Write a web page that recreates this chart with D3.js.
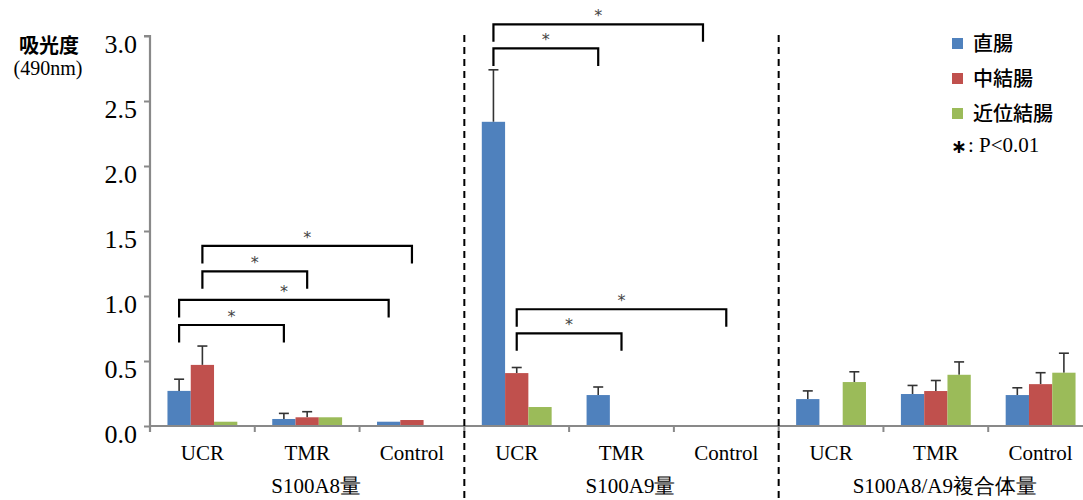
<!DOCTYPE html>
<html><head><meta charset="utf-8">
<script src="https://cdn.jsdelivr.net/npm/d3@7"></script>
<style>
body{margin:0;background:#fff;}
svg{display:block;}
.serif{font-family:"Liberation Serif","Times New Roman","DejaVu Serif",serif;}
.cjk{font-family:"Noto Sans CJK JP","Noto Sans CJK SC",sans-serif;}
</style></head>
<body>
<svg id="chart" width="1083" height="500"></svg>
<script>
const groups = ["S100A8量", "S100A9量", "S100A8/A9複合体量"];
const categories = ["UCR", "TMR", "Control"];
const series = ["直腸", "中結腸", "近位結腸"];
const colors = ["#4F81BD", "#C0504D", "#9BBB59"];
const yTicks = [0, 0.5, 1.0, 1.5, 2.0, 2.5, 3.0];

// values[group][series][category]
const a8Values = [[0.27, 0.054, 0.033], [0.47, 0.067, 0.046], [0.033, 0.067, null]];
const a8Errors = [[0.36, 0.097, null], [0.615, 0.11, null], [null, null, null]];
const a9Values = [[2.34, 0.238, null], [0.407, null, null], [0.146, null, null]];
const a9Errors = [[2.74, 0.30, null], [0.45, null, null], [null, null, null]];
const cxValues = [[0.207, 0.246, 0.238], [null, 0.269, 0.322], [0.338, 0.394, 0.41]];
const cxErrors = [[0.27, 0.312, 0.294], [null, 0.35, 0.41], [0.417, 0.493, 0.56]];
const values = [a8Values, a9Values, cxValues];
const errors = [a8Errors, a9Errors, cxErrors];

// brackets: [group, fromCategory, fromSeries, toCategory, toSeries, level]
const brackets = [
  [0, 0, 1, 2, 1, 1.385],
  [0, 0, 1, 1, 1, 1.19],
  [0, 0, 0, 2, 0, 0.97],
  [0, 0, 0, 1, 0, 0.777],
  [1, 0, 0, 2, 0, 3.09],
  [1, 0, 0, 1, 0, 2.905],
  [1, 0, 1, 2, 1, 0.898],
  [1, 0, 1, 1, 1, 0.713]
];
const legLen = 0.135;

const svg = d3.select("#chart");

const y = d3.scaleLinear().domain([0, 3]).range([426, 36]);
const xg = d3.scaleBand().domain(d3.range(groups.length)).range([150, 1093]).padding(0);
const xc = d3.scaleBand().domain(d3.range(categories.length)).range([0, xg.bandwidth()]).padding(0);
const xs = d3.scaleBand().domain(d3.range(series.length)).range([0, xc.bandwidth()]).paddingInner(0).paddingOuter(0.75);

const barX = (g, c, s) => xg(g) + xc(c) + xs(s);
const barCX = (g, c, s) => barX(g, c, s) + xs.bandwidth() / 2;

// bars
const barData = [];
groups.forEach((gname, g) => series.forEach((sname, s) => categories.forEach((cname, c) => {
  const v = values[g][s][c];
  if (v != null) barData.push({g, s, c, v, e: errors[g][s][c]});
})));

// error bars (behind bars)
const errG = svg.append("g").attr("stroke", "#333").attr("stroke-width", 1.6);
barData.filter(d => d.e != null).forEach(d => {
  const cx = barCX(d.g, d.c, d.s);
  errG.append("line").attr("x1", cx).attr("x2", cx).attr("y1", y(d.v)).attr("y2", y(d.e));
  errG.append("line").attr("x1", cx - 5).attr("x2", cx + 5).attr("y1", y(d.e)).attr("y2", y(d.e));
});

svg.append("g").selectAll("rect").data(barData).join("rect")
  .attr("x", d => barX(d.g, d.c, d.s))
  .attr("width", xs.bandwidth())
  .attr("y", d => y(d.v))
  .attr("height", d => y(0) - y(d.v))
  .attr("fill", d => colors[d.s]);

// y axis
const yAxis = svg.append("g").attr("transform", "translate(150,0)")
  .call(d3.axisLeft(y).tickValues(yTicks).tickFormat(d3.format(".1f")).tickSize(6).tickPadding(7));
yAxis.attr("font-family", null).attr("font-size", null);
yAxis.select(".domain").attr("stroke", "#898989").attr("stroke-width", 2.2).attr("d", "M-6,36H0V432");
yAxis.selectAll(".tick line").attr("stroke", "#898989").attr("stroke-width", 2);
yAxis.selectAll(".tick text").attr("class", "serif").style("font-size", "26px").attr("fill", "#000").attr("dy", "0.62em");

// x axis line and ticks
const xAxisG = svg.append("g");
xAxisG.append("line").attr("x1", 150).attr("x2", 1083).attr("y1", y(0)).attr("y2", y(0))
  .attr("stroke", "#898989").attr("stroke-width", 2.2);
const bounds = [];
groups.forEach((g, gi) => categories.forEach((c, ci) => bounds.push(xg(gi) + xc(ci))));
bounds.push(xg.range()[1]);
xAxisG.selectAll(".xt").data(bounds.slice(1)).join("line")
  .attr("x1", d => d).attr("x2", d => d).attr("y1", y(0)).attr("y2", y(0) + 6)
  .attr("stroke", "#898989").attr("stroke-width", 2);

// category labels
groups.forEach((gname, g) => {
  categories.forEach((cname, c) => {
    svg.append("text").attr("class", "serif").attr("x", xg(g) + xc(c) + xc.bandwidth() / 2).attr("y", 460)
      .attr("text-anchor", "middle").style("font-size", "21px").text(cname);
  });
  svg.append("text").attr("class", "serif").attr("x", xg(g) + xg.bandwidth() / 2 + 9).attr("y", 493)
    .attr("text-anchor", "middle").style("font-size", "21px").text(gname);
});

// dashed dividers
[1, 2].forEach(g => {
  svg.append("line").attr("x1", xg(g)).attr("x2", xg(g)).attr("y1", 35).attr("y2", 500)
    .attr("stroke", "#000").attr("stroke-width", 2).attr("stroke-dasharray", "7,5");
});

// significance brackets
const brG = svg.append("g");
brackets.forEach(([g, c1, s1, c2, s2, lvl]) => {
  const x1 = barCX(g, c1, s1), x2 = barCX(g, c2, s2);
  const yt = y(lvl), yb = y(lvl - legLen);
  brG.append("path").attr("d", `M${x1},${yb}V${yt}H${x2}V${yb}`)
    .attr("fill", "none").attr("stroke", "#000").attr("stroke-width", 2.2);
  brG.append("text").attr("x", (x1 + x2) / 2).attr("y", yt - 3)
    .attr("text-anchor", "middle").style("font-family", "'DejaVu Sans',sans-serif")
    .style("font-size", "16px").attr("fill", "#444").text("*");
});

// y axis title
svg.append("text").attr("class", "cjk").attr("x", 49).attr("y", 53).attr("text-anchor", "middle")
  .style("font-weight", 700).style("font-size", "20px").text("吸光度");
svg.append("text").attr("class", "serif").attr("x", 48).attr("y", 75).attr("text-anchor", "middle")
  .style("font-size", "20px").text("(490nm)");

// legend
const lg = svg.append("g");
series.forEach((s, i) => {
  const ly = 38 + i * 35;
  lg.append("rect").attr("x", 952).attr("y", ly).attr("width", 11).attr("height", 11).attr("fill", colors[i]);
  lg.append("text").attr("class", "cjk").attr("x", 973).attr("y", ly + 13).style("font-weight", 500)
    .style("font-size", "20px").text(s);
});
lg.append("text").attr("x", 951).attr("y", 153).style("font-family", "'DejaVu Sans',sans-serif")
  .style("font-weight", 700).style("font-size", "19px").text("∗");
lg.append("text").attr("class", "serif").attr("x", 968).attr("y", 152).style("font-size", "21px").text(": P<0.01");
</script>
</body></html>
